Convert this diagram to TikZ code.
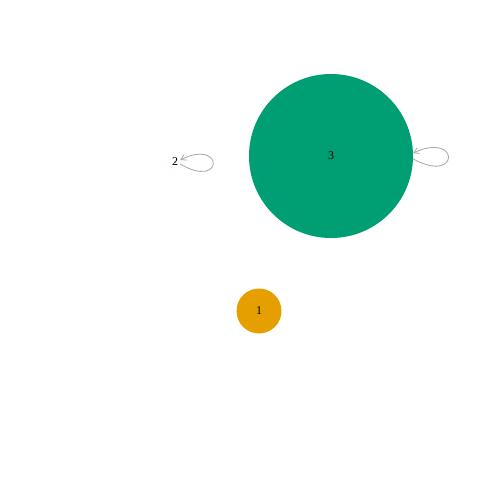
\documentclass[tikz,border=0pt]{standalone}
\usepackage{fontspec}
\setmainfont{Liberation Serif}
\usetikzlibrary{arrows.meta}
\definecolor{cgreen}{HTML}{009E73}
\definecolor{corange}{HTML}{E69F00}
\definecolor{cblue}{HTML}{56B4E9}
\definecolor{cedge}{HTML}{A6A6A6}
\tikzset{
  vtx/.style={circle, inner sep=0pt, font=\fontsize{12}{14}\selectfont},
  selfloop/.style={draw=cedge, line width=0.8pt, -{Straight Barb[length=5pt,width=6pt]}}
}
\begin{document}
\begin{tikzpicture}[x=1pt,y=-1pt]
\useasboundingbox (0,0) rectangle (480,480);
\fill[white] (0,0) rectangle (480,480);
\fill[cblue] (175,162) circle (1.2);
\node[vtx, fill=cgreen, minimum size=164pt] (n3) at (331,156) {3};
\node[vtx, fill=corange, minimum size=45pt] (n1) at (259,311) {1};
\node[vtx] (n2) at (175,162) {2};
\draw[selfloop] ([yshift=-2]n2.east) .. controls +(44,26) and +(44,-22) .. ([yshift=2]n2.east);
\draw[selfloop] (n3.-2) .. controls +(47,26) and +(47,-22) .. (n3.2);
\end{tikzpicture}
\end{document}
